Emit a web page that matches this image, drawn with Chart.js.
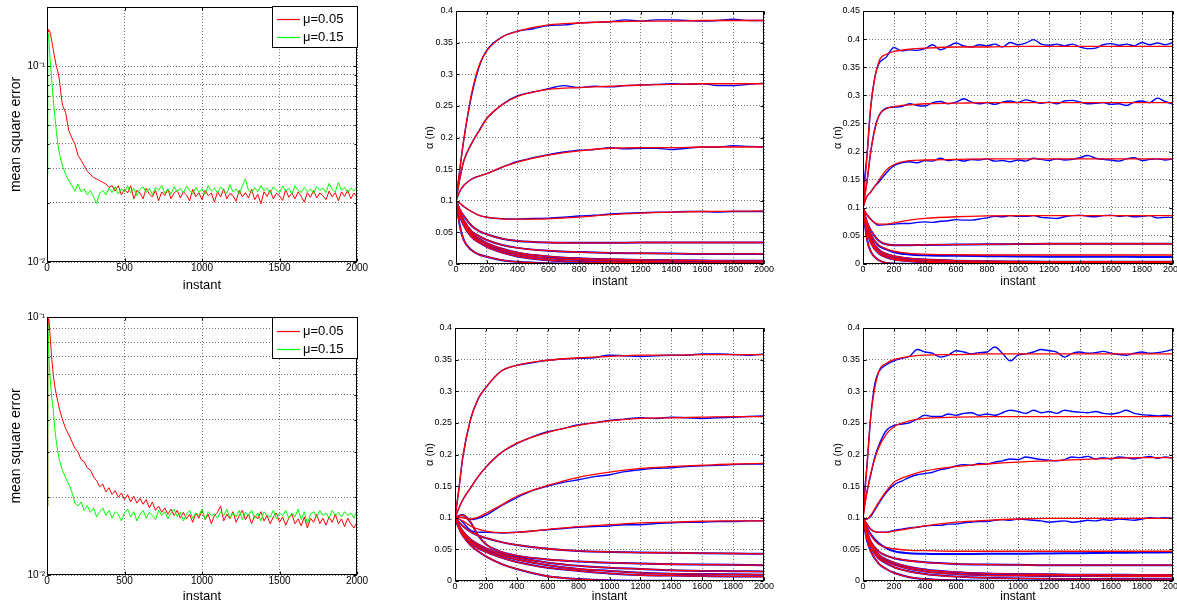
<!DOCTYPE html>
<html>
<head>
<meta charset="utf-8">
<script src="https://cdn.jsdelivr.net/npm/chart.js@4.4.1/dist/chart.umd.min.js"></script>
<style>
html, body { margin: 0; padding: 0; background: #fff; width: 1177px; height: 601px; overflow: hidden; }
canvas { position: absolute; }
</style>
</head>
<body>
<canvas id="mseTop"></canvas>
<canvas id="mseBot"></canvas>
<canvas id="alphaTM"></canvas>
<canvas id="alphaTR"></canvas>
<canvas id="alphaBM"></canvas>
<canvas id="alphaBR"></canvas>
<script>
// ---------- data ----------
const mseLabels = ['\u03bc=0.05', '\u03bc=0.15'];
const mseInstants = [0, 5, 10, 15, 20, 30, 40, 50, 60, 70, 80, 90, 100]
  .concat(Array.from({ length: 95 }, (_, i) => 120 + 20 * i));
const logGrid = [0.01, 0.02, 0.03, 0.04, 0.05, 0.06, 0.07, 0.08, 0.09, 0.1, 0.2];
const logTickText = { 0.1: '10\u207b\u00b9', 0.01: '10\u207b\u00b2' };

// top-left panel
const mseTopSlow = [0.140, 0.155, 0.150, 0.152, 0.148, 0.135, 0.122, 0.110, 0.100, 0.094, 0.085, 0.072, 0.063,
  0.058, 0.047, 0.043, 0.040, 0.035, 0.033, 0.031, 0.029, 0.028, 0.027,
  0.0265, 0.026, 0.0255, 0.025, 0.024, 0.0245, 0.023, 0.0245, 0.022, 0.0235,
  0.0225, 0.0245, 0.021, 0.0232, 0.0225, 0.021, 0.0238, 0.0222, 0.0215, 0.0232,
  0.0205, 0.0228, 0.0218, 0.0235, 0.021, 0.0225, 0.0232, 0.0212, 0.0228, 0.022,
  0.0205, 0.0235, 0.0215, 0.0226, 0.0208, 0.0232, 0.0218, 0.0225, 0.0202, 0.0228,
  0.0215, 0.0236, 0.021, 0.0224, 0.0218, 0.0204, 0.0232, 0.0215, 0.0226, 0.0212,
  0.0235, 0.0208, 0.0222, 0.0198, 0.0228, 0.0216, 0.0232, 0.021, 0.0224, 0.0218,
  0.0206, 0.0234, 0.0214, 0.0225, 0.021, 0.0228, 0.0216, 0.0202, 0.0226, 0.0214,
  0.0232, 0.0212, 0.0225, 0.0218, 0.0208, 0.023, 0.0215, 0.0226, 0.0205, 0.0228,
  0.0216, 0.0232, 0.021, 0.0225, 0.0215];
const mseTopFast = [0.028, 0.140, 0.146, 0.125, 0.108, 0.086, 0.068, 0.056, 0.047, 0.040, 0.036, 0.033, 0.031,
  0.028, 0.026, 0.0245, 0.023, 0.025, 0.0228, 0.0236, 0.022, 0.0232, 0.0215,
  0.0198, 0.0225, 0.0232, 0.022, 0.0238, 0.0226, 0.0242, 0.0222, 0.0236, 0.0228,
  0.0245, 0.0225, 0.0238, 0.0218, 0.0235, 0.0242, 0.0226, 0.0238, 0.022, 0.024,
  0.0232, 0.0246, 0.0224, 0.0236, 0.0222, 0.0242, 0.0228, 0.0238, 0.0225, 0.0244,
  0.0232, 0.0222, 0.024, 0.0228, 0.0236, 0.0222, 0.0245, 0.023, 0.0238, 0.0225,
  0.0242, 0.0232, 0.0224, 0.0248, 0.0228, 0.0236, 0.0222, 0.0244, 0.0265, 0.0232,
  0.0225, 0.024, 0.0228, 0.0246, 0.023, 0.0238, 0.0224, 0.0242, 0.0232, 0.0226,
  0.0244, 0.023, 0.0238, 0.0222, 0.0245, 0.0232, 0.0226, 0.024, 0.0228, 0.0236,
  0.0224, 0.0242, 0.0232, 0.0238, 0.0226, 0.0252, 0.0234, 0.0228, 0.0255, 0.0232,
  0.024, 0.0226, 0.0238, 0.023, 0.0242];

// bottom-left panel
const mseBotSlow = [0.0185, 0.088, 0.099, 0.095, 0.084, 0.070, 0.060, 0.054, 0.050, 0.047, 0.044, 0.042, 0.040,
  0.037, 0.035, 0.033, 0.031, 0.030, 0.028, 0.0275, 0.026, 0.0255, 0.024,
  0.0232, 0.022, 0.0225, 0.021, 0.0218, 0.0205, 0.0212, 0.020, 0.0208, 0.0196,
  0.0205, 0.0192, 0.0202, 0.019, 0.0198, 0.0188, 0.0196, 0.0182, 0.0192, 0.0178,
  0.0185, 0.0175, 0.0182, 0.0172, 0.018, 0.017, 0.0178, 0.0166, 0.0175, 0.0165,
  0.0172, 0.016, 0.0174, 0.0166, 0.0178, 0.0164, 0.0172, 0.0158, 0.017, 0.0175,
  0.0185, 0.0162, 0.0172, 0.0165, 0.0176, 0.016, 0.017, 0.0178, 0.0164, 0.0172,
  0.0158, 0.017, 0.0165, 0.0176, 0.0162, 0.017, 0.0158, 0.0168, 0.0174, 0.016,
  0.0168, 0.0156, 0.0166, 0.0172, 0.0158, 0.0165, 0.0155, 0.0168, 0.0152, 0.0166,
  0.016, 0.0172, 0.0158, 0.0166, 0.0156, 0.0168, 0.016, 0.0172, 0.0158, 0.0165,
  0.0154, 0.0166, 0.0158, 0.0152, 0.016];
const mseBotFast = [0.0185, 0.094, 0.078, 0.066, 0.058, 0.049, 0.044, 0.037, 0.033, 0.030, 0.028, 0.0265, 0.0255,
  0.0238, 0.0225, 0.021, 0.019, 0.0185, 0.0192, 0.0178, 0.0186, 0.0175, 0.0182,
  0.0168, 0.0176, 0.0182, 0.017, 0.0178, 0.0166, 0.0176, 0.0172, 0.0162, 0.0174,
  0.018, 0.0168, 0.0176, 0.0162, 0.0172, 0.0178, 0.0166, 0.0175, 0.017, 0.0164,
  0.0178, 0.017, 0.0176, 0.0165, 0.0174, 0.018, 0.0168, 0.0175, 0.0162, 0.0172,
  0.0178, 0.0166, 0.0174, 0.017, 0.018, 0.0164, 0.0176, 0.017, 0.0172, 0.0166,
  0.0176, 0.017, 0.018, 0.0166, 0.0174, 0.0168, 0.0178, 0.0164, 0.0175, 0.017,
  0.0178, 0.0166, 0.0174, 0.0162, 0.0176, 0.017, 0.0168, 0.0178, 0.0165, 0.0174,
  0.017, 0.0178, 0.0166, 0.0174, 0.0168, 0.018, 0.0164, 0.0176, 0.0158, 0.0172,
  0.0176, 0.0168, 0.0178, 0.017, 0.0174, 0.0166, 0.0178, 0.017, 0.0175, 0.0168,
  0.0176, 0.017, 0.0174, 0.0166, 0.0178];

// alpha(n) panels: red = theory, blue = estimate
const alphaInstants = [0, 25, 50, 100, 150, 200, 300, 400, 600, 800, 1000, 1200, 1400, 1600, 1800, 2000];
const smoothInstants = [0, 25, 50, 100, 150, 200].concat(Array.from({ length: 18 }, (_, i) => 300 + i * 100));
const noisyInstants = [0, 10, 25, 50, 75, 100].concat(Array.from({ length: 38 }, (_, i) => 150 + i * 50));

const topMidTheory = [
  [0.1, 0.15, 0.195, 0.268, 0.314, 0.337, 0.359, 0.368, 0.378, 0.381, 0.383, 0.384, 0.384, 0.385, 0.385, 0.385],
  [0.1, 0.135, 0.162, 0.19, 0.21, 0.23, 0.252, 0.265, 0.276, 0.279, 0.281, 0.283, 0.284, 0.285, 0.285, 0.285],
  [0.1, 0.115, 0.124, 0.134, 0.139, 0.143, 0.153, 0.161, 0.172, 0.179, 0.183, 0.184, 0.184, 0.185, 0.185, 0.185],
  [0.1, 0.096, 0.091, 0.083, 0.077, 0.074, 0.0715, 0.071, 0.0715, 0.074, 0.078, 0.0805, 0.082, 0.083, 0.0835, 0.084],
  [0.1, 0.086, 0.076, 0.061, 0.052, 0.047, 0.040, 0.0365, 0.034, 0.0335, 0.0335, 0.034, 0.034, 0.034, 0.034, 0.034],
  [0.1, 0.082, 0.069, 0.052, 0.044, 0.038, 0.030, 0.0255, 0.021, 0.0188, 0.0175, 0.017, 0.0165, 0.016, 0.016, 0.016],
  [0.1, 0.08, 0.066, 0.049, 0.04, 0.033, 0.024, 0.018, 0.012, 0.009, 0.0075, 0.0065, 0.006, 0.0055, 0.005, 0.005],
  [0.1, 0.078, 0.064, 0.046, 0.037, 0.030, 0.021, 0.015, 0.009, 0.0065, 0.005, 0.004, 0.0035, 0.003, 0.003, 0.003],
  [0.1, 0.076, 0.061, 0.043, 0.034, 0.027, 0.018, 0.012, 0.006, 0.0035, 0.0025, 0.002, 0.0015, 0.0015, 0.0015, 0.0015],
  [0.1, 0.06, 0.038, 0.022, 0.015, 0.0115, 0.006, 0.0035, 0.0012, 0.0005, 0.0002, 0.0001, 0.0001, 0, 0, 0]
];
const topMidEstimate = [
  [0.1, 0.15, 0.196, 0.265, 0.312, 0.338,
   0.359, 0.368, 0.372, 0.377, 0.378, 0.381, 0.382, 0.383, 0.386, 0.384, 0.386, 0.386, 0.385, 0.384, 0.385, 0.387, 0.385, 0.385],
  [0.1, 0.135, 0.163, 0.19, 0.211, 0.23,
   0.252, 0.266, 0.272, 0.277, 0.282, 0.279, 0.281, 0.28, 0.282, 0.283, 0.284, 0.285, 0.284, 0.285, 0.282, 0.282, 0.284, 0.286],
  [0.1, 0.115, 0.124, 0.134, 0.139, 0.143,
   0.153, 0.162, 0.168, 0.173, 0.177, 0.18, 0.181, 0.184, 0.182, 0.183, 0.183, 0.181, 0.183, 0.185, 0.185, 0.187, 0.186, 0.185],
  [0.1, 0.096, 0.091, 0.083, 0.077, 0.074,
   0.0715, 0.071, 0.072, 0.0725, 0.074, 0.076, 0.077, 0.079, 0.0805, 0.081, 0.082, 0.082, 0.083, 0.083, 0.082, 0.083, 0.083, 0.083]
];

const topRightTheory = [
  [0.1, 0.19, 0.28, 0.358, 0.373, 0.378, 0.382, 0.384, 0.386, 0.386, 0.387, 0.387, 0.387, 0.387, 0.387, 0.387],
  [0.1, 0.145, 0.2, 0.262, 0.276, 0.28, 0.283, 0.285, 0.286, 0.287, 0.287, 0.287, 0.287, 0.287, 0.287, 0.287],
  [0.1, 0.12, 0.128, 0.148, 0.167, 0.177, 0.184, 0.185, 0.186, 0.187, 0.187, 0.187, 0.187, 0.187, 0.187, 0.187],
  [0.1, 0.088, 0.079, 0.071, 0.071, 0.073, 0.078, 0.081, 0.084, 0.0855, 0.086, 0.086, 0.086, 0.086, 0.086, 0.086],
  [0.1, 0.075, 0.06, 0.042, 0.035, 0.0335, 0.0335, 0.034, 0.0345, 0.035, 0.0355, 0.036, 0.036, 0.036, 0.036, 0.036],
  [0.1, 0.07, 0.052, 0.034, 0.027, 0.023, 0.019, 0.0175, 0.0165, 0.016, 0.016, 0.016, 0.016, 0.016, 0.016, 0.016],
  [0.1, 0.066, 0.046, 0.026, 0.018, 0.014, 0.010, 0.008, 0.006, 0.005, 0.0045, 0.004, 0.004, 0.004, 0.004, 0.004],
  [0.1, 0.063, 0.042, 0.022, 0.015, 0.011, 0.007, 0.005, 0.0035, 0.003, 0.0025, 0.0025, 0.0025, 0.0025, 0.0025, 0.0025],
  [0.1, 0.06, 0.038, 0.019, 0.012, 0.008, 0.005, 0.003, 0.002, 0.0015, 0.001, 0.001, 0.001, 0.001, 0.001, 0.001],
  [0.1, 0.045, 0.022, 0.007, 0.002, 0.0008, 0.0002, 0, 0, 0, 0, 0, 0, 0, 0, 0]
];
const topRightEstimate = [
  [0.1, 0.15, 0.19, 0.28, 0.33, 0.355,
   0.368, 0.385, 0.379, 0.381, 0.38, 0.383, 0.39,
   0.381, 0.387, 0.393, 0.388, 0.386, 0.39, 0.388, 0.391, 0.386, 0.394,
   0.39, 0.393, 0.399, 0.391, 0.389, 0.391, 0.388, 0.391, 0.386, 0.383,
   0.384, 0.39, 0.392, 0.389, 0.391, 0.388, 0.394, 0.39, 0.393, 0.39, 0.394],
  [0.1, 0.12, 0.145, 0.2, 0.24, 0.262,
   0.277, 0.279, 0.28, 0.285, 0.282, 0.281, 0.287,
   0.289, 0.285, 0.288, 0.294, 0.288, 0.285, 0.287, 0.284, 0.288, 0.29,
   0.287, 0.292, 0.289, 0.286, 0.288, 0.285, 0.29, 0.291, 0.288, 0.285,
   0.286, 0.287, 0.284, 0.285, 0.282, 0.288, 0.29, 0.287, 0.295, 0.289, 0.284],
  [0.1, 0.11, 0.12, 0.128, 0.138, 0.145,
   0.162, 0.175, 0.18, 0.182, 0.18, 0.184, 0.183,
   0.188, 0.184, 0.186, 0.183, 0.186, 0.185, 0.187, 0.183, 0.184, 0.182,
   0.185, 0.183, 0.188, 0.186, 0.184, 0.187, 0.185, 0.186, 0.189, 0.193,
   0.188, 0.186, 0.185, 0.183, 0.187, 0.189, 0.184, 0.186, 0.187, 0.185, 0.187],
  [0.1, 0.095, 0.088, 0.08, 0.073, 0.069,
   0.07, 0.071, 0.072, 0.072, 0.074, 0.075, 0.074,
   0.076, 0.077, 0.079, 0.078, 0.078, 0.08, 0.082, 0.085, 0.084, 0.086,
   0.085, 0.085, 0.086, 0.083, 0.082, 0.081, 0.084, 0.086, 0.087, 0.085,
   0.084, 0.086, 0.087, 0.085, 0.086, 0.084, 0.085, 0.086, 0.082, 0.083, 0.083]
];
const topRightLowEstimate = [0.1, 0.07, 0.052, 0.033, 0.026, 0.021, 0.017, 0.0155, 0.0145, 0.014, 0.0135, 0.013, 0.013, 0.013, 0.0125, 0.0125];

const botMidTheory = [
  [0.1, 0.145, 0.195, 0.255, 0.288, 0.306, 0.332, 0.341, 0.349, 0.353, 0.355, 0.357, 0.357, 0.358, 0.358, 0.358],
  [0.1, 0.115, 0.128, 0.147, 0.165, 0.18, 0.203, 0.218, 0.235, 0.246, 0.253, 0.257, 0.258, 0.259, 0.26, 0.26],
  [0.1, 0.101, 0.1, 0.098, 0.101, 0.107, 0.12, 0.134, 0.151, 0.164, 0.172, 0.178, 0.181, 0.183, 0.185, 0.186],
  [0.1, 0.098, 0.095, 0.087, 0.082, 0.079, 0.0765, 0.077, 0.0815, 0.086, 0.089, 0.092, 0.093, 0.0945, 0.095, 0.0952],
  [0.1, 0.093, 0.087, 0.078, 0.072, 0.068, 0.0615, 0.057, 0.051, 0.0475, 0.046, 0.045, 0.0445, 0.044, 0.0435, 0.043],
  [0.1, 0.103, 0.104, 0.093, 0.072, 0.058, 0.046, 0.040, 0.034, 0.031, 0.029, 0.0275, 0.0265, 0.026, 0.0255, 0.025],
  [0.1, 0.088, 0.079, 0.066, 0.058, 0.052, 0.043, 0.037, 0.029, 0.024, 0.021, 0.019, 0.017, 0.016, 0.0155, 0.015],
  [0.1, 0.087, 0.077, 0.063, 0.055, 0.049, 0.040, 0.034, 0.025, 0.019, 0.016, 0.013, 0.0115, 0.011, 0.0105, 0.010],
  [0.1, 0.086, 0.075, 0.061, 0.052, 0.046, 0.037, 0.030, 0.021, 0.016, 0.012, 0.0095, 0.0085, 0.0078, 0.0072, 0.007],
  [0.1, 0.084, 0.072, 0.057, 0.047, 0.039, 0.027, 0.019, 0.0075, 0.003, 0.001, 0.0004, 0.0002, 0.0001, 0, 0]
];
const botMidEstimate = [
  [0.1, 0.145, 0.195, 0.255, 0.288, 0.306,
   0.332, 0.341, 0.345, 0.349, 0.351, 0.352, 0.353, 0.357, 0.356, 0.355, 0.356, 0.357, 0.357, 0.359, 0.359, 0.358, 0.357, 0.359],
  [0.1, 0.115, 0.128, 0.147, 0.165, 0.18,
   0.203, 0.217, 0.228, 0.236, 0.241, 0.247, 0.25, 0.254, 0.256, 0.258, 0.257, 0.259, 0.258, 0.257, 0.258, 0.259, 0.26, 0.261],
  [0.1, 0.103, 0.105, 0.097, 0.099, 0.104,
   0.119, 0.132, 0.143, 0.15, 0.156, 0.16, 0.165, 0.168, 0.173, 0.176, 0.178, 0.179, 0.181, 0.182, 0.183, 0.184, 0.185, 0.185],
  [0.1, 0.098, 0.093, 0.08, 0.077, 0.077,
   0.076, 0.077, 0.079, 0.081, 0.083, 0.085, 0.086, 0.087, 0.089, 0.089, 0.091, 0.092, 0.093, 0.093, 0.094, 0.094, 0.095, 0.095]
];

const botRightTheory = [
  [0.1, 0.18, 0.26, 0.33, 0.344, 0.35, 0.355, 0.357, 0.358, 0.359, 0.359, 0.359, 0.359, 0.359, 0.359, 0.359],
  [0.1, 0.14, 0.17, 0.21, 0.232, 0.244, 0.253, 0.257, 0.259, 0.26, 0.26, 0.26, 0.26, 0.26, 0.26, 0.26],
  [0.1, 0.098, 0.104, 0.124, 0.142, 0.156, 0.167, 0.174, 0.181, 0.185, 0.188, 0.19, 0.192, 0.194, 0.195, 0.195],
  [0.1, 0.09, 0.082, 0.077, 0.077, 0.079, 0.083, 0.087, 0.093, 0.096, 0.098, 0.099, 0.099, 0.099, 0.099, 0.099],
  [0.1, 0.085, 0.072, 0.058, 0.053, 0.051, 0.0485, 0.048, 0.047, 0.047, 0.047, 0.047, 0.047, 0.047, 0.047, 0.047],
  [0.1, 0.078, 0.062, 0.047, 0.040, 0.036, 0.032, 0.0295, 0.027, 0.026, 0.0255, 0.025, 0.025, 0.025, 0.025, 0.025],
  [0.1, 0.076, 0.06, 0.042, 0.034, 0.029, 0.022, 0.018, 0.014, 0.012, 0.011, 0.0105, 0.01, 0.01, 0.0095, 0.0095],
  [0.1, 0.074, 0.057, 0.039, 0.031, 0.026, 0.019, 0.015, 0.011, 0.009, 0.0085, 0.008, 0.008, 0.0075, 0.0075, 0.0075],
  [0.1, 0.072, 0.054, 0.036, 0.028, 0.022, 0.015, 0.011, 0.007, 0.005, 0.004, 0.0035, 0.003, 0.003, 0.003, 0.003],
  [0.1, 0.065, 0.047, 0.028, 0.019, 0.013, 0.006, 0.003, 0.001, 0.0003, 0.0001, 0, 0, 0, 0, 0]
];
const botRightEstimate = [
  [0.1, 0.14, 0.18, 0.26, 0.31, 0.33,
   0.342, 0.348, 0.352, 0.355, 0.366, 0.362, 0.36,
   0.354, 0.357, 0.364, 0.362, 0.359, 0.361, 0.362, 0.37, 0.36, 0.348,
   0.357, 0.359, 0.362, 0.366, 0.364, 0.362, 0.354, 0.36, 0.362, 0.36,
   0.361, 0.363, 0.36, 0.358, 0.357, 0.36, 0.362, 0.36, 0.361, 0.363, 0.366],
  [0.1, 0.12, 0.14, 0.168, 0.195, 0.213,
   0.238, 0.246, 0.248, 0.25, 0.256, 0.262, 0.26,
   0.26, 0.264, 0.262, 0.265, 0.266, 0.262, 0.264, 0.262, 0.266, 0.27,
   0.268, 0.265, 0.27, 0.266, 0.268, 0.265, 0.27, 0.268, 0.267, 0.266,
   0.268, 0.265, 0.264, 0.266, 0.27, 0.265, 0.263, 0.262, 0.261, 0.262, 0.26],
  [0.1, 0.097, 0.098, 0.102, 0.112, 0.122,
   0.14, 0.152, 0.158, 0.164, 0.168, 0.17, 0.172,
   0.176, 0.178, 0.182, 0.184, 0.183, 0.186, 0.185, 0.188, 0.19, 0.193,
   0.192, 0.196, 0.194, 0.192, 0.191, 0.19, 0.192, 0.196, 0.195, 0.197,
   0.193, 0.195, 0.193, 0.196, 0.195, 0.193, 0.195, 0.197, 0.194, 0.196, 0.194],
  [0.1, 0.095, 0.09, 0.082, 0.078, 0.077,
   0.077, 0.08, 0.082, 0.084, 0.085, 0.087, 0.088,
   0.088, 0.09, 0.09, 0.092, 0.093, 0.094, 0.094, 0.096, 0.097, 0.096,
   0.098, 0.097, 0.096, 0.095, 0.093, 0.094, 0.095, 0.093, 0.094, 0.096,
   0.095, 0.097, 0.096, 0.098, 0.097, 0.096, 0.098, 0.1, 0.099, 0.1, 0.099]
];
const botRightLowEstimate = [0.1, 0.085, 0.074, 0.06, 0.052, 0.047, 0.044, 0.043, 0.0425, 0.043, 0.043, 0.0435, 0.044, 0.0445, 0.045, 0.0455];

// ---------- drawing ----------
const RED = '#ff0000', BLUE = '#0000ff', GREEN = '#00ff00';
const mseColors = [RED, GREEN];
const FONT = '"Liberation Sans", Arial, Helvetica, sans-serif';
Chart.defaults.font.family = FONT;
Chart.defaults.color = '#000';
Chart.defaults.elements.point.radius = 0;

function pts(xs, ys) { return ys.map((y, i) => ({ x: xs[i], y: y })); }

const frameBox = {
  id: 'frameBox',
  afterDatasetsDraw(chart) {
    const { ctx, chartArea: a, scales } = chart;
    const l = Math.round(a.left) + 0.5, t = Math.round(a.top) + 0.5;
    const r = Math.round(a.right) - 0.5, b = Math.round(a.bottom) - 0.5;
    ctx.save();
    ctx.strokeStyle = '#000';
    ctx.lineWidth = 1;
    ctx.beginPath();
    scales.x.ticks.forEach(tk => {
      const px = Math.round(scales.x.getPixelForValue(tk.value)) + 0.5;
      ctx.moveTo(px, b); ctx.lineTo(px, b - 3);
      ctx.moveTo(px, t); ctx.lineTo(px, t + 3);
    });
    scales.y.ticks.forEach(tk => {
      const py = Math.round(scales.y.getPixelForValue(tk.value)) + 0.5;
      const len = tk.label === '' ? 2 : 3;
      ctx.moveTo(l, py); ctx.lineTo(l + len, py);
      ctx.moveTo(r, py); ctx.lineTo(r - len, py);
    });
    ctx.stroke();
    ctx.strokeRect(l, t, r - l, b - t);
    ctx.restore();
  }
};

function boxLegend(box) {
  return {
    id: 'boxLegend',
    afterDraw(chart) {
      const ctx = chart.ctx;
      ctx.save();
      ctx.fillStyle = '#fff';
      ctx.fillRect(box.x, box.y, box.w, box.h);
      ctx.strokeStyle = '#000';
      ctx.lineWidth = 1;
      ctx.strokeRect(box.x + 0.5, box.y + 0.5, box.w - 1, box.h - 1);
      ctx.font = '13px ' + FONT;
      ctx.textBaseline = 'middle';
      mseLabels.forEach((label, i) => {
        const y = Math.round(box.y + box.rows[i]) + 0.5;
        ctx.strokeStyle = mseColors[i];
        ctx.lineWidth = 1.2;
        ctx.beginPath();
        ctx.moveTo(box.x + 5, y); ctx.lineTo(box.x + 28, y);
        ctx.stroke();
        ctx.fillStyle = '#000';
        ctx.fillText(label, box.x + 31, y);
      });
      ctx.restore();
    }
  };
}

function panel(id, f, opt) {
  const cv = document.getElementById(id);
  cv.width = f.w; cv.height = f.h;
  cv.style.left = f.x + 'px'; cv.style.top = f.y + 'px';
  const yW = f.l - f.x, xH = f.y + f.h - f.b;
  const grid = { color: 'rgba(0,0,0,0.55)', lineWidth: 1, drawTicks: false };
  const border = { display: false, dash: [1, 2] };
  const yScale = Object.assign({
    grid: grid, border: border,
    title: { display: true, text: opt.yTitle, color: '#000',
      font: { size: opt.yTitleSize, lineHeight: 1 },
      padding: { top: opt.yTitleX - f.x - opt.yTitleSize / 2, bottom: 0 } },
    afterFit(s) { s.width = yW; s.paddingTop = 0; s.paddingBottom = 0; s.paddingLeft = 0; s.paddingRight = 0; }
  }, opt.y);
  const plugins = [frameBox];
  if (opt.legend) plugins.push(boxLegend(opt.legend));
  new Chart(cv, {
    type: 'line',
    data: { datasets: opt.datasets },
    options: {
      responsive: false, animation: false, devicePixelRatio: 1,
      layout: { padding: { top: f.t - f.y, right: f.x + f.w - f.r, left: 0, bottom: 0 } },
      plugins: { legend: { display: false }, tooltip: { enabled: false } },
      scales: {
        x: {
          type: 'linear', min: 0, max: 2000,
          ticks: { stepSize: opt.xStep, autoSkip: false, maxRotation: 0, padding: 1,
            font: { size: opt.tickSize, lineHeight: 1.1 }, callback: v => String(v) },
          grid: grid, border: border,
          title: { display: true, text: 'instant', color: '#000',
            font: { size: opt.xTitleSize, lineHeight: 1 },
            padding: { top: 0, bottom: f.y + f.h - opt.xTitleY - opt.xTitleSize / 2 } },
          afterFit(s) { s.height = xH; s.paddingLeft = 0; s.paddingRight = 0; s.paddingTop = 0; s.paddingBottom = 0; }
        },
        y: yScale
      }
    },
    plugins: plugins
  });
}

function mseSets(slow, fast) {
  return [
    { label: mseLabels[0], data: pts(mseInstants, slow), borderColor: mseColors[0], borderWidth: 1, order: 1 },
    { label: mseLabels[1], data: pts(mseInstants, fast), borderColor: mseColors[1], borderWidth: 1, order: 0 }
  ];
}

function logAxis(max, tickSize) {
  return {
    type: 'logarithmic', min: 0.01, max: max,
    afterBuildTicks(s) { s.ticks = logGrid.filter(v => v <= max).map(v => ({ value: v })); },
    ticks: { autoSkip: false, padding: 2, font: { size: tickSize },
      callback: v => logTickText[v] || '' }
  };
}

function alphaSets(theory, estimates, estXs, lowEstimates) {
  const sets = theory.map(c => ({ data: pts(alphaInstants, c), borderColor: RED, borderWidth: 1.3, cubicInterpolationMode: 'monotone' }));
  estimates.forEach(e => sets.push({ data: pts(estXs, e), borderColor: BLUE, borderWidth: 1.4, cubicInterpolationMode: 'monotone' }));
  lowEstimates.forEach(e => sets.push({ data: pts(alphaInstants, e), borderColor: BLUE, borderWidth: 2, cubicInterpolationMode: 'monotone' }));
  return sets;
}

function alphaAxis(max) {
  return {
    type: 'linear', min: 0, max: max,
    ticks: { stepSize: 0.05, autoSkip: false, padding: 3, font: { size: 9 },
      callback: v => String(+v.toFixed(2)) }
  };
}

panel('mseTop', { x: 0, y: 0, w: 375, h: 300, l: 47, t: 7, r: 357, b: 262 }, {
  datasets: mseSets(mseTopSlow, mseTopFast), xStep: 500, tickSize: 10,
  y: logAxis(0.2, 10), yTitle: 'mean square error', yTitleSize: 14, yTitleX: 16,
  xTitleSize: 13, xTitleY: 285,
  legend: { x: 272, y: 6, w: 86, h: 42, rows: [13, 31] }
});
panel('mseBot', { x: 0, y: 305, w: 375, h: 300, l: 47, t: 317, r: 357, b: 575 }, {
  datasets: mseSets(mseBotSlow, mseBotFast), xStep: 500, tickSize: 10,
  y: logAxis(0.1, 10), yTitle: 'mean square error', yTitleSize: 14, yTitleX: 16,
  xTitleSize: 13, xTitleY: 596,
  legend: { x: 272, y: 12, w: 86, h: 42, rows: [14, 32] }
});
panel('alphaTM', { x: 415, y: 0, w: 380, h: 300, l: 456, t: 11, r: 764, b: 264 }, {
  datasets: alphaSets(topMidTheory, topMidEstimate, smoothInstants, topMidTheory.slice(4)),
  xStep: 200, tickSize: 9, y: alphaAxis(0.4), yTitle: '\u03b1 (n)', yTitleSize: 11, yTitleX: 430,
  xTitleSize: 12, xTitleY: 282
});
panel('alphaTR', { x: 800, y: 0, w: 377, h: 300, l: 863, t: 11, r: 1173, b: 264 }, {
  datasets: alphaSets(topRightTheory, topRightEstimate, noisyInstants,
    [topRightTheory[4], topRightLowEstimate].concat(topRightTheory.slice(6))),
  xStep: 200, tickSize: 9, y: alphaAxis(0.45), yTitle: '\u03b1 (n)', yTitleSize: 11, yTitleX: 838,
  xTitleSize: 12, xTitleY: 282
});
panel('alphaBM', { x: 415, y: 305, w: 380, h: 300, l: 455, t: 328, r: 764, b: 581 }, {
  datasets: alphaSets(botMidTheory, botMidEstimate, smoothInstants, botMidTheory.slice(4)),
  xStep: 200, tickSize: 9, y: alphaAxis(0.4), yTitle: '\u03b1 (n)', yTitleSize: 11, yTitleX: 430,
  xTitleSize: 12, xTitleY: 597
});
panel('alphaBR', { x: 800, y: 305, w: 377, h: 300, l: 863, t: 328, r: 1173, b: 581 }, {
  datasets: alphaSets(botRightTheory, botRightEstimate, noisyInstants,
    [botRightLowEstimate].concat(botRightTheory.slice(5))),
  xStep: 200, tickSize: 9, y: alphaAxis(0.4), yTitle: '\u03b1 (n)', yTitleSize: 11, yTitleX: 838,
  xTitleSize: 12, xTitleY: 597
});
</script>
</body>
</html>
